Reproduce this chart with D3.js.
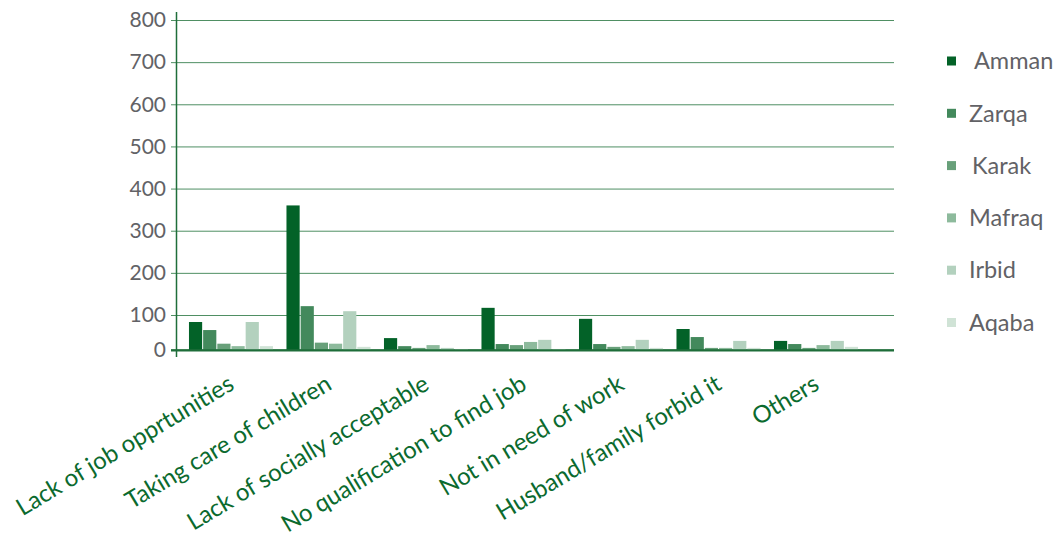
<!DOCTYPE html>
<html>
<head>
<meta charset="utf-8">
<script src="https://cdn.jsdelivr.net/npm/d3@7"></script>
<style>
  body { margin: 0; background: #fff; }
  svg { display: block; }
</style>
</head>
<body>
<svg id="chart" width="1058" height="541"></svg>
<script>
// Reasons for not working, by governorate
const categories = [
  "Lack of job opprtunities",
  "Taking care of children",
  "Lack of socially acceptable",
  "No qualification to find job",
  "Not in need of work",
  "Husband/family forbid it",
  "Others"
];
const seriesNames = ["Amman", "Zarqa", "Karak", "Mafraq", "Irbid", "Aqaba"];
const amman  = [80, 360, 34, 117, 89, 60, 26];
const zarqa  = [57, 121, 11, 17, 17, 37, 17];
const karak  = [18, 21, 6, 14, 9, 6, 6];
const mafraq = [11, 18, 14, 23, 11, 6, 14];
const irbid  = [80, 109, 6, 29, 29, 26, 26];
const aqaba  = [11, 9, 3, 3, 6, 6, 9];
const yTicks = [0, 100, 200, 300, 400, 500, 600, 700, 800];
const colors = ["#036228", "#43895c", "#68a07a", "#8dba9c", "#b3d1be", "#d0e3d6"];

const values = [amman, zarqa, karak, mafraq, irbid, aqaba];

const svg = d3.select("#chart");
const axisColor = "#1f6e3a";
const gridColor = "#4f8f63";
const textGray = "#626266";
const labelGreen = "#0b6a2e";
const font = "Lato, 'Open Sans', sans-serif";

// The first interval of the value axis is drawn slightly shorter than the rest
const y = d3.scaleLinear().domain([0, 100, 800]).range([350, 315, 20]);

const x0 = d3.scaleBand()
  .domain(categories)
  .range([176, 871])
  .paddingInner(0.138)
  .paddingOuter(0.133);

const x1 = d3.scaleBand()
  .domain(seriesNames)
  .range([0, x0.bandwidth()])
  .paddingInner(0.07);

const color = d3.scaleOrdinal().domain(seriesNames).range(colors);

// Gridlines and tick labels
const gy = svg.append("g")
  .attr("transform", "translate(176,0)")
  .call(d3.axisLeft(y).tickValues(yTicks).tickSize(-(894 - 176)).tickSizeOuter(0).tickPadding(10).tickFormat(d3.format("d")));
gy.select(".domain").remove();
gy.selectAll(".tick line")
  .attr("x1", -5)
  .attr("stroke", d => d === 0 ? axisColor : gridColor)
  .attr("stroke-width", d => d === 0 ? 2 : 1);
gy.selectAll(".tick text")
  .attr("fill", textGray)
  .style("font-family", font)
  .style("font-size", "21px");

// Vertical axis line
svg.append("line")
  .attr("x1", 176.5).attr("x2", 176.5)
  .attr("y1", 12).attr("y2", 357)
  .attr("stroke", axisColor).attr("stroke-width", 1.5);

// Bars
const groups = svg.append("g").selectAll("g")
  .data(categories)
  .join("g")
  .attr("transform", d => `translate(${x0(d)},0)`);

groups.selectAll("rect")
  .data((d, i) => seriesNames.map((s, j) => ({ s, v: values[j][i] })))
  .join("rect")
  .attr("x", d => x1(d.s))
  .attr("width", x1.bandwidth())
  .attr("y", d => y(d.v))
  .attr("height", d => y(0) - y(d.v))
  .attr("fill", d => color(d.s));

// Redraw the baseline above the bars
svg.append("line")
  .attr("x1", 171).attr("x2", 894)
  .attr("y1", y(0)).attr("y2", y(0))
  .attr("stroke", axisColor).attr("stroke-width", 1.5);

// Category labels, rotated
svg.append("g").selectAll("text")
  .data(categories)
  .join("text")
  .attr("transform", d => `translate(${x0(d) + x0.bandwidth() / 2 - 4},${374}) rotate(-31)`)
  .attr("text-anchor", "end")
  .attr("dy", "0.7em")
  .attr("fill", labelGreen)
  .style("font-family", font)
  .style("font-size", "24px")
  .text(d => d);

// Legend
const legend = svg.append("g").selectAll("g")
  .data(seriesNames)
  .join("g")
  .attr("transform", (d, i) => `translate(947,${61 + i * 52.3})`);
legend.append("rect")
  .attr("x", 0).attr("y", -4.5)
  .attr("width", 9).attr("height", 9)
  .attr("fill", d => color(d));
legend.append("text")
  .attr("x", (d, i) => i === 0 ? 27 : (i === 2 ? 25 : 22))
  .attr("dy", "0.35em")
  .attr("fill", textGray)
  .style("font-family", font)
  .style("font-size", "23.5px")
  .text(d => d);
</script>
</body>
</html>
